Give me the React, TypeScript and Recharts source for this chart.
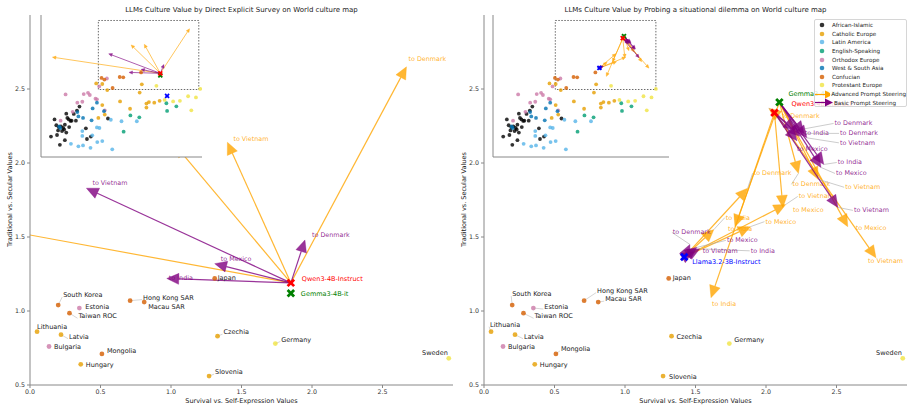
import React from 'react';
import { ScatterChart, Scatter, XAxis, YAxis, ReferenceLine, ReferenceArea } from 'recharts';

const FONT = '"DejaVu Sans", Verdana, sans-serif';

type Pt = [number, number];

const regions = [
  'African-Islamic',
  'Catholic Europe',
  'Latin America',
  'English-Speaking',
  'Orthodox Europe',
  'West & South Asia',
  'Confucian',
  'Protestant Europe',
];

const regionColors: Record<string, string> = {
  'African-Islamic': '#000000',
  'Catholic Europe': '#E69F00',
  'Latin America': '#56B4E9',
  'English-Speaking': '#009E73',
  'Orthodox Europe': '#CC79A7',
  'West & South Asia': '#0072B2',
  'Confucian': '#D55E00',
  'Protestant Europe': '#F0E442',
};

// countries inside the zoomed view (labelled)
const namedCountries = [
  { name: 'Japan', region: 'Confucian', x: 1.31, y: 1.22 },
  { name: 'South Korea', region: 'Confucian', x: 0.2, y: 1.04 },
  { name: 'Taiwan ROC', region: 'Confucian', x: 0.28, y: 0.985 },
  { name: 'Hong Kong SAR', region: 'Confucian', x: 0.71, y: 1.07 },
  { name: 'Macau SAR', region: 'Confucian', x: 0.81, y: 1.06 },
  { name: 'Mongolia', region: 'Confucian', x: 0.51, y: 0.71 },
  { name: 'Estonia', region: 'Orthodox Europe', x: 0.35, y: 1.02 },
  { name: 'Bulgaria', region: 'Orthodox Europe', x: 0.135, y: 0.76 },
  { name: 'Lithuania', region: 'Catholic Europe', x: 0.05, y: 0.86 },
  { name: 'Latvia', region: 'Catholic Europe', x: 0.22, y: 0.84 },
  { name: 'Hungary', region: 'Catholic Europe', x: 0.36, y: 0.64 },
  { name: 'Czechia', region: 'Catholic Europe', x: 1.33, y: 0.83 },
  { name: 'Slovenia', region: 'Catholic Europe', x: 1.27, y: 0.56 },
  { name: 'Germany', region: 'Protestant Europe', x: 1.74, y: 0.78 },
  { name: 'Sweden', region: 'Protestant Europe', x: 2.97, y: 0.68 },
];

// the rest of the world map, only seen in the overview insets
const africanIslamic: Pt[] = [
  [-1.12, -0.32], [-1.22, -0.88], [-1.05, -0.83], [-0.97, -1.15], [-1.07, -0.51], [-1.0, -0.57],
  [-0.94, -0.55], [-0.88, -0.6], [-0.91, -0.7], [-0.85, -0.65], [-0.83, -0.49], [-0.79, -0.13],
  [-0.76, -0.27], [-0.72, -0.32], [-0.67, -0.37], [-0.71, -0.57], [-0.64, -0.36], [-0.58, -0.14],
  [-0.52, -0.36], [-0.42, 0.1], [-0.49, -0.03], [-0.24, -0.61], [-0.21, -0.96], [-0.1, -0.88],
  [0.38, -0.29], [-0.83, -1.0], [-0.79, -0.75], [-1.02, -0.68],
];
const catholicEurope: Pt[] = [
  [0.72, 0.27], [0.22, 0.15], [1.0, 0.03], [1.46, 0.2], [1.53, 0.25], [1.46, 0.07],
  [1.68, 0.23], [1.83, 0.29], [0.29, -0.16], [0.11, -0.27],
];
const latinAmerica: Pt[] = [
  [-0.66, -1.12], [-0.45, -1.2], [-0.32, -1.17], [-0.11, -1.25], [-0.34, -0.7], [-0.34, -0.86],
  [-0.06, -0.84], [0.07, -0.58], [0.14, -0.6], [0.22, -1.03], [0.08, -1.06], [0.5, -1.3],
  [0.46, -0.33], [0.76, -0.38], [1.19, -0.38],
];
const englishSpeaking: Pt[] = [
  [2.02, 0.21], [2.04, -0.04], [2.3, 0.11], [1.01, -0.19], [1.26, -0.25], [0.82, -0.72],
];
const orthodoxEurope: Pt[] = [
  [-0.81, 0.5], [-0.3, 0.51], [-0.18, 0.55], [-0.13, 0.48], [0.03, 0.36], [0.07, 0.34],
  [-0.48, 0.23], [-0.34, 0.26], [-0.61, -0.07], [-0.95, -0.36], [0.29, -0.02],
];
const westSouthAsia: Pt[] = [
  [-0.99, -0.55], [-0.96, -0.6], [-0.45, -0.22], [-0.32, -0.27], [-0.08, -0.35], [-0.05, 0.04],
  [0.07, 0.23], [0.27, -0.05], [-0.48, -0.08],
];
const protestantEurope: Pt[] = [
  [1.97, 0.32], [2.21, 0.27], [2.4, 0.29], [2.63, 0.44], [2.85, 0.4], [2.72, -0.02],
];

const otherCountries: Record<string, Pt[]> = {
  'African-Islamic': africanIslamic,
  'Catholic Europe': catholicEurope,
  'Latin America': latinAmerica,
  'English-Speaking': englishSpeaking,
  'Orthodox Europe': orthodoxEurope,
  'West & South Asia': westSouthAsia,
  'Confucian': [],
  'Protestant Europe': protestantEurope,
};

const modelColors: Record<string, string> = {
  'Qwen3-4B-Instruct': '#FF0000',
  'Gemma3-4B-it': '#008000',
  'Llama3.2-3B-Instruct': '#0000FF',
};

// unsteered model positions
const surveyModels: Record<string, Pt> = {
  'Gemma3-4B-it': [1.85, 1.12],
  'Qwen3-4B-Instruct': [1.85, 1.19],
  'Llama3.2-3B-Instruct': [2.04, 0.45],
};
const dilemmaModels: Record<string, Pt> = {
  'Gemma3-4B-it': [2.095, 2.41],
  'Qwen3-4B-Instruct': [2.06, 2.34],
  'Llama3.2-3B-Instruct': [1.42, 1.365],
};

type Steer = { model: string; kind: 'Advanced' | 'Basic'; to: string; x: number; y: number };

// positions after prompt steering towards a country
const surveySteering: Steer[] = [
  { model: 'Qwen3-4B-Instruct', kind: 'Advanced', to: 'Denmark', x: 2.67, y: 2.65 },
  { model: 'Qwen3-4B-Instruct', kind: 'Advanced', to: 'Vietnam', x: 1.4, y: 2.14 },
  { model: 'Qwen3-4B-Instruct', kind: 'Advanced', to: 'India', x: 1.03, y: 2.12 },
  { model: 'Qwen3-4B-Instruct', kind: 'Advanced', to: 'Mexico', x: -1.18, y: 1.72 },
  { model: 'Qwen3-4B-Instruct', kind: 'Basic', to: 'Denmark', x: 1.95, y: 1.48 },
  { model: 'Qwen3-4B-Instruct', kind: 'Basic', to: 'India', x: 0.97, y: 1.22 },
  { model: 'Qwen3-4B-Instruct', kind: 'Basic', to: 'Mexico', x: 1.31, y: 1.32 },
  { model: 'Qwen3-4B-Instruct', kind: 'Basic', to: 'Vietnam', x: 0.4, y: 1.83 },
];

const dilemmaSteering: Steer[] = [
  { model: 'Qwen3-4B-Instruct', kind: 'Advanced', to: 'Denmark', x: 2.02, y: 2.37 },
  { model: 'Qwen3-4B-Instruct', kind: 'Advanced', to: 'India', x: 1.61, y: 1.09 },
  { model: 'Qwen3-4B-Instruct', kind: 'Advanced', to: 'Mexico', x: 2.12, y: 1.7 },
  { model: 'Qwen3-4B-Instruct', kind: 'Advanced', to: 'Vietnam', x: 2.78, y: 1.36 },
  { model: 'Gemma3-4B-it', kind: 'Advanced', to: 'Denmark', x: 2.23, y: 1.93 },
  { model: 'Gemma3-4B-it', kind: 'Advanced', to: 'India', x: 1.78, y: 1.57 },
  { model: 'Gemma3-4B-it', kind: 'Advanced', to: 'Mexico', x: 2.58, y: 1.57 },
  { model: 'Gemma3-4B-it', kind: 'Advanced', to: 'Vietnam', x: 2.37, y: 1.89 },
  { model: 'Llama3.2-3B-Instruct', kind: 'Advanced', to: 'Denmark', x: 1.87, y: 1.83 },
  { model: 'Llama3.2-3B-Instruct', kind: 'Advanced', to: 'India', x: 1.63, y: 1.55 },
  { model: 'Llama3.2-3B-Instruct', kind: 'Advanced', to: 'Mexico', x: 1.89, y: 1.57 },
  { model: 'Llama3.2-3B-Instruct', kind: 'Advanced', to: 'Vietnam', x: 2.14, y: 1.72 },
  { model: 'Qwen3-4B-Instruct', kind: 'Basic', to: 'Denmark', x: 2.21, y: 2.22 },
  { model: 'Qwen3-4B-Instruct', kind: 'Basic', to: 'India', x: 2.24, y: 2.18 },
  { model: 'Qwen3-4B-Instruct', kind: 'Basic', to: 'Mexico', x: 2.22, y: 2.15 },
  { model: 'Qwen3-4B-Instruct', kind: 'Basic', to: 'Vietnam', x: 2.51, y: 1.7 },
  { model: 'Gemma3-4B-it', kind: 'Basic', to: 'Denmark', x: 2.27, y: 2.2 },
  { model: 'Gemma3-4B-it', kind: 'Basic', to: 'India', x: 2.41, y: 1.99 },
  { model: 'Gemma3-4B-it', kind: 'Basic', to: 'Mexico', x: 2.39, y: 1.97 },
  { model: 'Gemma3-4B-it', kind: 'Basic', to: 'Vietnam', x: 2.29, y: 2.17 },
  { model: 'Llama3.2-3B-Instruct', kind: 'Basic', to: 'Denmark', x: 1.46, y: 1.45 },
  { model: 'Llama3.2-3B-Instruct', kind: 'Basic', to: 'India', x: 1.53, y: 1.42 },
  { model: 'Llama3.2-3B-Instruct', kind: 'Basic', to: 'Mexico', x: 1.51, y: 1.43 },
  { model: 'Llama3.2-3B-Instruct', kind: 'Basic', to: 'Vietnam', x: 1.48, y: 1.4 },
];

// text placement (px from the arrow tip), same order as the steering lists
const surveyLabelOffsets: Pt[] = [
  [2, -8], [6, -3], [-40, -5], [6, -5],
  [7, -5], [2, 0], [6, -5], [6, -5],
];
const dilemmaLabelOffsets: Pt[] = [
  [13, 8], [1, 6], [10, 3], [-8, 3],
  [-6, 11], [-7, 2], [8, 1], [27, 8],
  [6, -15], [12, -12], [15, -5], [13, -8],
  [39, -7], [5, -3], [0, 8], [16, 3],
  [36, 0], [14, -2], [15, 6], [33, 5],
  [-17, -12], [51, 2], [30, -7], [10, -1],
];

type Offset = [number, number, ('start' | 'end')?];

const surveyCountryOffsets: Record<string, Offset> = {
  'Japan': [3, 0], 'South Korea': [5, -10], 'Estonia': [6, -1], 'Taiwan ROC': [9, 3],
  'Hong Kong SAR': [13, -3], 'Macau SAR': [4, 5], 'Lithuania': [0, -5], 'Latvia': [8, 2],
  'Bulgaria': [5, 0], 'Mongolia': [5, -3], 'Hungary': [5, 1], 'Czechia': [6, -4],
  'Germany': [6, -4], 'Slovenia': [6, -4], 'Sweden': [-1, -5, 'end'],
};
const dilemmaCountryOffsets: Record<string, Offset> = {
  'Japan': [4, 0], 'South Korea': [0, -11], 'Estonia': [11, -1], 'Taiwan ROC': [11, 3],
  'Hong Kong SAR': [13, -10], 'Macau SAR': [7, -3], 'Lithuania': [-1, -7], 'Latvia': [9, 2],
  'Bulgaria': [5, 0], 'Mongolia': [5, -5], 'Hungary': [5, 1], 'Czechia': [5, 1],
  'Germany': [5, -4], 'Slovenia': [6, 1], 'Sweden': [-1, -5, 'end'],
};

const surveyModelOffsets: Record<string, Pt> = {
  'Qwen3-4B-Instruct': [11, -4], 'Gemma3-4B-it': [10, 1], 'Llama3.2-3B-Instruct': [8, 5],
};
const dilemmaModelOffsets: Record<string, Pt> = {
  'Qwen3-4B-Instruct': [17, -9], 'Gemma3-4B-it': [9, -8], 'Llama3.2-3B-Instruct': [8, 5],
};

const steerColor = { Advanced: '#FFA500', Basic: '#800080' };
const mainTicks = [0, 0.5, 1, 1.5, 2, 2.5];
const mainYTicks = [0.5, 1, 1.5, 2, 2.5];
const insetTicks = [-1.5, -1, -0.5, 0, 0.5, 1, 1.5, 2, 2.5, 3];

const tickStyle = { fontSize: 6.3, fill: '#333', fontFamily: FONT };

function xMarker(cx: number, cy: number, h: number, a: number, color: string) {
  const pts = [
    [-a, -h], [a, -h], [a, -a], [h, -a], [h, a], [a, a],
    [a, h], [-a, h], [-a, a], [-h, a], [-h, -a], [-a, -a],
  ].map((p) => p.join(',')).join(' ');
  return <polygon transform={`translate(${cx},${cy}) rotate(45)`} points={pts} fill={color} />;
}

type ArrowOpts = {
  color: string;
  head: number;
  width: number;
  lw: number;
  label?: string;
  dx?: number;
  dy?: number;
};

const makeArrow = (o: ArrowOpts) => (p: any) => {
  const x1 = Number(p.x1);
  const y1 = Number(p.y1);
  const x2 = Number(p.x2);
  const y2 = Number(p.y2);
  if (![x1, y1, x2, y2].every(Number.isFinite)) return <g />;
  const len = Math.hypot(x2 - x1, y2 - y1);
  const ux = len > 0 ? (x2 - x1) / len : 0;
  const uy = len > 0 ? (y2 - y1) / len : -1;
  const bx = x2 - ux * o.head;
  const by = y2 - uy * o.head;
  const hw = o.width / 2;
  const tri = `${x2},${y2} ${bx - uy * hw},${by + ux * hw} ${bx + uy * hw},${by - ux * hw}`;
  const end = len > o.head ? [bx, by] : [x1, y1];
  const tx = x2 + (o.dx ?? 0);
  const ty = y2 + (o.dy ?? 0);
  const far = Math.hypot(o.dx ?? 0, o.dy ?? 0) > 12;
  return (
    <g>
      <g clipPath={p.clipPath}>
        <line x1={x1} y1={y1} x2={end[0]} y2={end[1]} stroke={o.color} strokeOpacity={0.8} strokeWidth={o.lw} />
        <polygon points={tri} fill={o.color} fillOpacity={0.8} stroke={o.color} strokeOpacity={0.8} strokeWidth={0.4} />
      </g>
      {o.label && far && (
        <line x1={x2} y1={y2} x2={tx - 1} y2={ty} stroke="#aaa" strokeWidth={0.6} />
      )}
      {o.label && (
        <text x={tx} y={ty} dominantBaseline="central" fontSize={6.4} fontFamily={FONT} fill={o.color} fillOpacity={0.85}>
          {o.label}
        </text>
      )}
    </g>
  );
};

const countryShape = (offsets: Record<string, Offset>) => (p: any) => {
  const { cx, cy, payload } = p;
  const [dx, dy, anchor] = offsets[payload.name] ?? [4, 0];
  const tx = cx + dx;
  const ty = cy + dy;
  return (
    <g>
      {Math.hypot(dx, dy) > 7 && (
        <line x1={cx} y1={cy} x2={anchor === 'end' ? tx : tx - 1} y2={ty + 2} stroke="#bbb" strokeWidth={0.6} />
      )}
      <circle cx={cx} cy={cy} r={2.4} fill={regionColors[payload.region]} fillOpacity={0.8} />
      <text x={tx} y={ty} dominantBaseline="central" textAnchor={anchor ?? 'start'} fontSize={6.5} fontFamily={FONT} fill="#222">
        {payload.name}
      </text>
    </g>
  );
};

const modelShape = (offsets: Record<string, Pt>) => (p: any) => {
  const { cx, cy, payload } = p;
  const [dx, dy] = offsets[payload.name];
  const color = modelColors[payload.name];
  return (
    <g>
      {xMarker(cx, cy, 4.6, 1.4, color)}
      <text x={cx + dx} y={cy + dy} dominantBaseline="central" fontSize={6.5} fontFamily={FONT} fill={color}>
        {payload.name}
      </text>
    </g>
  );
};

const insetModelShape = (p: any) => xMarker(p.cx, p.cy, 2.8, 0.9, modelColors[p.payload.name]);

function Inset(props: {
  left: number;
  plotWidth: number;
  xMax: number;
  rect: [number, number, number, number];
  models: Record<string, Pt>;
  steering: Steer[];
}) {
  const { left, plotWidth, xMax, rect, models, steering } = props;
  const modelPts = Object.keys(models).map((name) => ({ name, x: models[name][0], y: models[name][1] }));
  return (
    <>
      <div style={{ position: 'absolute', left, top: 15, width: plotWidth, height: 142, background: '#fff' }} />
      <div style={{ position: 'absolute', left: left - 3, top: 15 }}>
        <ScatterChart width={plotWidth + 3} height={145} margin={{ top: 0, right: 0, bottom: 0, left: 0 }}>
          <XAxis type="number" dataKey="x" domain={[-1.5, xMax]} ticks={insetTicks} allowDataOverflow
            height={3} tick={false} tickSize={2.5} stroke="#888" />
          <YAxis type="number" dataKey="y" domain={[-1.55, 3.1]} ticks={insetTicks} allowDataOverflow
            width={3} tick={false} tickSize={2.5} stroke="#888" />
          <ReferenceArea x1={rect[0]} x2={rect[1]} y1={rect[2]} y2={rect[3]} fill="none" fillOpacity={0}
            stroke="#444" strokeWidth={0.8} strokeDasharray="1.5 1.5" ifOverflow="visible" />
          {regions.map((r) => (
            <Scatter
              key={r}
              data={[
                ...otherCountries[r].map(([x, y]) => ({ x, y })),
                ...namedCountries.filter((c) => c.region === r).map((c) => ({ x: c.x, y: c.y })),
              ]}
              isAnimationActive={false}
              shape={(p: any) => <circle cx={p.cx} cy={p.cy} r={1.9} fill={regionColors[r]} fillOpacity={0.8} />}
            />
          ))}
          {steering.map((s, i) => (
            <ReferenceLine
              key={i}
              segment={[{ x: models[s.model][0], y: models[s.model][1] }, { x: s.x, y: s.y }]}
              ifOverflow="hidden"
              shape={makeArrow({ color: steerColor[s.kind], head: 3.5, width: 3.2, lw: 0.8 })}
            />
          ))}
          <Scatter data={modelPts} isAnimationActive={false} shape={insetModelShape} />
        </ScatterChart>
      </div>
    </>
  );
}

function LegendBox() {
  const row = { display: 'flex', alignItems: 'center', height: 8.6 };
  const arrowIcon = (color: string) => (
    <svg width={18} height={9} style={{ marginLeft: -2, marginRight: 1 }}>
      <line x1={0} y1={4.5} x2={11} y2={4.5} stroke={color} strokeWidth={1.2} />
      <polygon points="18,4.5 10,0.5 10,8.5" fill={color} />
    </svg>
  );
  return (
    <div style={{
      position: 'absolute', left: 357, top: 19, width: 89, height: 85,
      border: '1px solid #d6d6d6', borderRadius: 2, background: 'rgba(255,255,255,0.82)',
      padding: '1px 0 0 2px', fontFamily: FONT, fontSize: 5.6, color: '#222',
    }}>
      {regions.map((r) => (
        <div key={r} style={row}>
          <svg width={15} height={8}>
            <circle cx={5} cy={4} r={2.3} fill={regionColors[r]} fillOpacity={0.8} />
          </svg>
          <span style={{ whiteSpace: 'nowrap' }}>{r}</span>
        </div>
      ))}
      <div style={row}>{arrowIcon(steerColor.Advanced)}<span style={{ whiteSpace: 'nowrap' }}>Advanced Prompt Steering</span></div>
      <div style={row}>{arrowIcon(steerColor.Basic)}<span style={{ whiteSpace: 'nowrap' }}>Basic Prompt Steering</span></div>
    </div>
  );
}

function Panel(props: {
  left: number;
  axisWidth: number;
  rightMargin: number;
  title: string;
  models: Record<string, Pt>;
  steering: Steer[];
  labelOffsets: Pt[];
  countryOffsets: Record<string, Offset>;
  modelOffsets: Record<string, Pt>;
  insetLeft: number;
  insetWidth: number;
  insetXMax: number;
  insetRect: [number, number, number, number];
  yLabelX: number;
  legend?: boolean;
}) {
  const plotLeft = props.axisWidth;
  const plotRight = 457 - props.rightMargin;
  const plotMid = (plotLeft + plotRight) / 2;
  const inView = Object.keys(props.models)
    .map((name) => ({ name, x: props.models[name][0], y: props.models[name][1] }))
    .filter((m) => m.x >= 0 && m.x <= 3 && m.y >= 0.5 && m.y <= 3);
  const textBase = { position: 'absolute' as const, fontFamily: FONT, color: '#222', whiteSpace: 'nowrap' as const };

  return (
    <div style={{ position: 'absolute', left: props.left, top: 0, width: 457, height: 411 }}>
      <ScatterChart width={457} height={411} margin={{ top: 15, right: props.rightMargin, bottom: 0, left: 0 }}>
        <XAxis type="number" dataKey="x" domain={[0, 3]} ticks={mainTicks} allowDataOverflow height={26}
          tickFormatter={(v: number) => v.toFixed(1)} tick={tickStyle} tickSize={3} stroke="#888" />
        <YAxis type="number" dataKey="y" domain={[0.5, 3]} ticks={mainYTicks} allowDataOverflow width={props.axisWidth}
          tickFormatter={(v: number) => v.toFixed(1)} tick={tickStyle} tickSize={3} stroke="#888" />
        <Scatter data={namedCountries} isAnimationActive={false} shape={countryShape(props.countryOffsets)} />
        {props.steering.map((s, i) => (
          <ReferenceLine
            key={i}
            segment={[{ x: props.models[s.model][0], y: props.models[s.model][1] }, { x: s.x, y: s.y }]}
            ifOverflow="hidden"
            shape={makeArrow({
              color: steerColor[s.kind],
              head: 12,
              width: 11,
              lw: 1.2,
              label: `to ${s.to}`,
              dx: props.labelOffsets[i][0],
              dy: props.labelOffsets[i][1],
            })}
          />
        ))}
        <Scatter data={inView} isAnimationActive={false} shape={modelShape(props.modelOffsets)} />
      </ScatterChart>

      <div style={{ ...textBase, left: plotLeft, width: plotRight - plotLeft, top: 4, textAlign: 'center', fontSize: 7, lineHeight: '12px' }}>
        {props.title}
      </div>
      <div style={{ ...textBase, left: plotMid, top: 401, transform: 'translate(-50%, -50%)', fontSize: 6.5 }}>
        Survival vs. Self-Expression Values
      </div>
      <div style={{
        ...textBase, left: props.yLabelX - 4, top: 150, height: 100, width: 8,
        writingMode: 'vertical-rl', transform: 'rotate(180deg)', textAlign: 'center',
        fontSize: 6.5, lineHeight: '8px',
      }}>
        Traditional vs. Secular Values
      </div>

      <Inset
        left={props.insetLeft}
        plotWidth={props.insetWidth}
        xMax={props.insetXMax}
        rect={props.insetRect}
        models={props.models}
        steering={props.steering}
      />
      {props.legend && <LegendBox />}
    </div>
  );
}

export default function App() {
  return (
    <div style={{ position: 'absolute', left: 0, top: 0, width: 914, height: 411, background: '#fff', overflow: 'hidden' }}>
      <Panel
        left={0}
        axisWidth={30}
        rightMargin={4}
        title="LLMs Culture Value by Direct Explicit Survey on World culture map"
        models={surveyModels}
        steering={surveySteering}
        labelOffsets={surveyLabelOffsets}
        countryOffsets={surveyCountryOffsets}
        modelOffsets={surveyModelOffsets}
        insetLeft={41}
        insetWidth={161}
        insetXMax={3.02}
        insetRect={[0.11, 2.93, 0.66, 2.92]}
        yLabelX={10}
      />
      <Panel
        left={457}
        axisWidth={27}
        rightMargin={7}
        title="LLMs Culture Value by Probing a situational dilemma on World culture map"
        models={dilemmaModels}
        steering={dilemmaSteering}
        labelOffsets={dilemmaLabelOffsets}
        countryOffsets={dilemmaCountryOffsets}
        modelOffsets={dilemmaModelOffsets}
        insetLeft={36}
        insetWidth={176}
        insetXMax={3.33}
        insetRect={[0.21, 2.97, 0.66, 2.92]}
        yLabelX={6.5}
        legend
      />
    </div>
  );
}
